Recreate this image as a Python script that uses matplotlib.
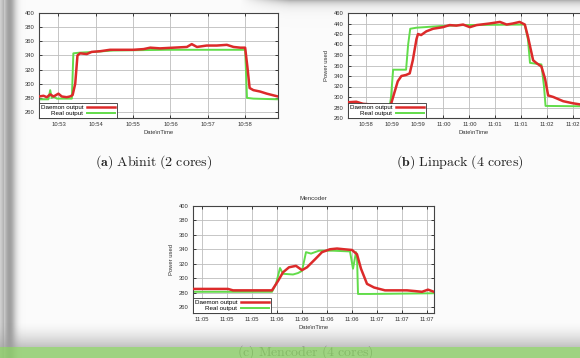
import numpy as np
import matplotlib.pyplot as plt
from matplotlib.ticker import MultipleLocator, FuncFormatter

plt.rcParams['font.family'] = ['Liberation Sans', 'DejaVu Sans']
plt.rcParams['mathtext.fontset'] = 'cm'

# times are minutes since midnight, values are power in watts
abinit_daemon_t = [652.48, 652.60, 652.69, 652.78, 652.87, 653.00, 653.09, 653.22, 653.31, 653.38,
                   653.45, 653.51, 653.58, 653.76, 653.89, 654.12, 654.38, 654.65, 655.01, 655.28,
                   655.46, 655.72, 656.08, 656.44, 656.57, 656.71, 656.97, 657.24, 657.51, 657.69,
                   657.87, 658.00, 658.06, 658.12, 658.22, 658.40, 658.58, 658.88]
abinit_daemon_w = [282, 283, 281, 285, 282, 286, 282, 281, 282, 284,
                   300, 340, 343, 342, 345, 346, 348, 348, 348, 349,
                   351, 350, 351, 352, 356, 352, 354, 354, 355, 352,
                   351, 351, 324, 294, 291, 289, 286, 282]
abinit_real_t = [652.48, 652.73, 652.78, 652.82, 652.87, 652.96, 653.36, 653.40, 653.58, 653.94,
                 654.47, 655.90, 656.80, 658.00, 658.05, 658.22, 658.88]
abinit_real_w = [278, 278, 291, 280, 282, 279, 279, 343, 344, 345,
                 347, 348, 348, 348, 280, 279, 278]

linpack_daemon_t = [658.16, 658.32, 658.45, 658.71, 658.96, 659.00, 659.12, 659.19, 659.28, 659.35,
                    659.41, 659.48, 659.51, 659.57, 659.67, 659.80, 659.99, 660.12, 660.25, 660.38,
                    660.51, 660.64, 660.89, 661.09, 661.22, 661.34, 661.47, 661.57, 661.63, 661.73,
                    661.79, 661.89, 661.96, 662.02, 662.12, 662.31, 662.50, 662.63, 663.00]
linpack_daemon_w = [290, 291, 287, 285, 280, 290, 330, 340, 342, 345,
                    370, 410, 420, 418, 425, 430, 433, 437, 436, 438,
                    433, 437, 440, 443, 438, 440, 443, 438, 415, 370,
                    365, 358, 335, 303, 300, 292, 288, 286, 285]
linpack_real_t = [658.16, 658.96, 658.99, 659.03, 659.28, 659.32, 659.36, 659.48, 659.93, 660.38,
                  661.57, 661.63, 661.67, 661.89, 661.94, 661.97, 663.00]
linpack_real_w = [282, 280, 300, 352, 352, 400, 430, 432, 435, 437,
                  438, 410, 365, 362, 320, 283, 282]

mencoder_daemon_t = [665.16, 665.45, 665.51, 665.56, 665.82, 665.95, 666.01, 666.06, 666.12, 666.19,
                     666.25, 666.30, 666.38, 666.45, 666.53, 666.60, 666.67, 666.75, 666.80, 666.84,
                     666.90, 666.97, 667.08, 667.30, 667.38, 667.45, 667.51, 667.57]
mencoder_daemon_w = [285, 285, 285, 283, 283, 283, 296, 308, 315, 317,
                     311, 315, 326, 336, 340, 341, 340, 339, 333, 313,
                     292, 287, 283, 283, 282, 281, 284, 281]
mencoder_real_t = [665.16, 665.95, 665.99, 666.03, 666.06, 666.16, 666.21, 666.25, 666.29, 666.34,
                   666.42, 666.56, 666.73, 666.76, 666.79, 666.80, 666.81, 666.93, 667.57]
mencoder_real_w = [281, 281, 292, 314, 306, 305, 307, 310, 336, 334,
                   338, 338, 337, 313, 336, 331, 278, 278, 279]

captions = [r'$\mathbf{(a)}\ \mathrm{Abinit\ (2\ cores)}$',
            r'$\mathbf{(b)}\ \mathrm{Linpack\ (4\ cores)}$',
            r'$\mathrm{(c)\ Mencoder\ (4\ cores)}$']

RED = '#dc2a2a'
GREEN = '#62dc4a'
W, H = 580, 358

fig = plt.figure(figsize=(W / 100, H / 100), dpi=100)
fig.patch.set_facecolor('white')

# photographed page: shadow on the left and at the top right
yy, xx = np.mgrid[0:H, 0:W].astype(float)
lum = np.full((H, W), 0.985)
lum -= 0.36 * np.exp(-((xx - 9) / 6.5) ** 2)
lum -= 0.12 * (xx < 4)
lum -= 0.28 * np.exp(-yy / 4.5) * np.clip((xx - 240) / 50, 0, 1)
fig.figimage(np.dstack([np.clip(lum, 0, 1)] * 3), zorder=-10)

# bottom edge of the page and the green slide band
ov = np.zeros((H, W, 4))
ov[..., :3] = 0.62
ov[..., 3] = 0.6 * np.clip((yy - 322) / 24, 0, 1) ** 1.5
band = yy >= 347
ov[band, 0] = 0.56
ov[band, 1] = 0.80
ov[band, 2] = 0.42
ov[band, 3] = 0.85
fig.figimage(ov, zorder=10)


def hhmm(v, pos):
    s = int(round(v * 60))
    return f'{s // 3600:02d}:{(s // 60) % 60:02d}'


def panel(rect, dt, dw, rt, rw, xlim, ylim, xstep, ylabel=None, title=None):
    l, t, r, b = rect
    ax = fig.add_axes([l / W, 1 - b / H, (r - l) / W, (b - t) / H])
    ax.set_facecolor('white')
    g, = ax.plot(rt, rw, color=GREEN, lw=1.4, zorder=2)
    d, = ax.plot(dt, dw, color=RED, lw=1.8, zorder=3)
    ax.set_xlim(*xlim)
    ax.set_ylim(*ylim)
    ax.xaxis.set_major_locator(MultipleLocator(xstep))
    ax.xaxis.set_major_formatter(FuncFormatter(hhmm))
    ax.yaxis.set_major_locator(MultipleLocator(20))
    ax.grid(True, color='#bdbdbd', lw=0.6)
    ax.tick_params(direction='in', top=True, right=True, length=2.5, width=0.5,
                   labelsize=4.2, labelcolor='#333333', pad=3)
    for s in ax.spines.values():
        s.set_color('#444444')
        s.set_linewidth(0.8)
    ax.set_xlabel('Date\\nTime', fontsize=4.2, color='#333333', labelpad=2)
    if ylabel:
        ax.set_ylabel(ylabel, fontsize=4.2, color='#333333', labelpad=4)
    if title:
        ax.set_title(title, fontsize=4.5, color='#333333', pad=4)
    leg = ax.legend([d, g], ['Daemon output', 'Real output'], loc='lower left',
                    markerfirst=False, fontsize=4.5, fancybox=False, framealpha=1,
                    edgecolor='#333333', borderaxespad=0, handlelength=4.5,
                    labelspacing=0.15, borderpad=0.25, handletextpad=0.6)
    leg.get_frame().set_linewidth(0.6)
    return ax


panel((39, 13, 278, 118), abinit_daemon_t, abinit_daemon_w, abinit_real_t, abinit_real_w,
      (652.48, 658.88), (251.6, 400), 1)
panel((348, 13, 600, 118), linpack_daemon_t, linpack_daemon_w, linpack_real_t, linpack_real_w,
      (658.16, 663.02), (260, 460), 0.5, ylabel='Power used')
panel((193, 206, 434, 313), mencoder_daemon_t, mencoder_daemon_w, mencoder_real_t, mencoder_real_w,
      (665.16, 667.57), (251.6, 400), 0.25, ylabel='Power used', title='Mencoder')

fig.text(154 / W, 1 - 162 / H, captions[0], ha='center', va='center', fontsize=10, color='#222222')
fig.text(460 / W, 1 - 162 / H, captions[1], ha='center', va='center', fontsize=10, color='#222222')
fig.text(305 / W, 1 - 352 / H, captions[2], ha='center', va='center', fontsize=10, color='#555555')

fig.savefig('out.png', dpi=100)
